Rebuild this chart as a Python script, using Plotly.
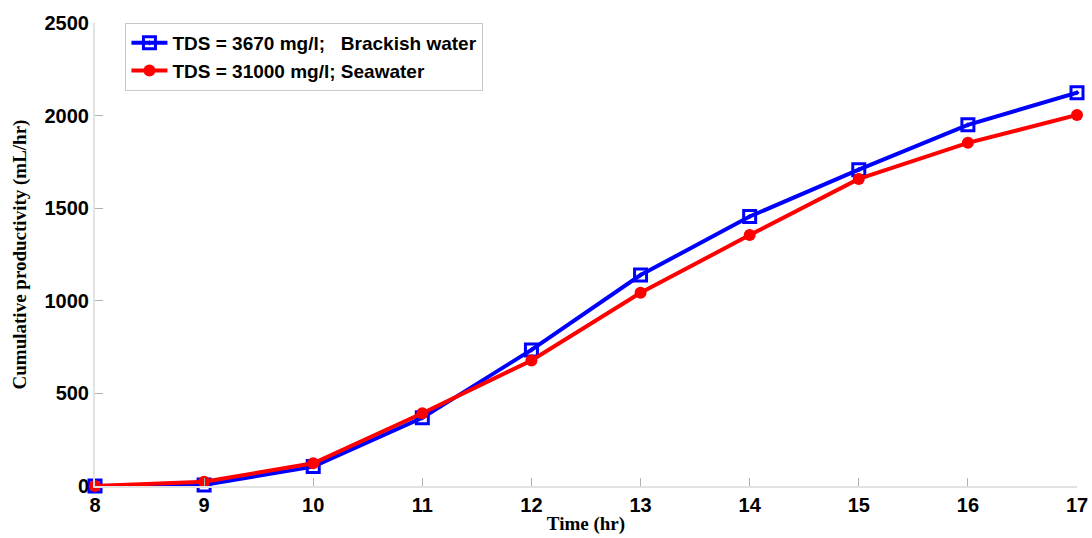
import plotly.graph_objects as go

time_hr = [8, 9, 10, 11, 12, 13, 14, 15, 16, 17]
brackish = [0, 6, 105, 368, 735, 1139, 1455, 1708, 1950, 2124]
seawater = [0, 23, 123, 393, 678, 1043, 1355, 1658, 1853, 2003]

x_ticks = [8, 9, 10, 11, 12, 13, 14, 15, 16, 17]
y_ticks = [0, 500, 1000, 1500, 2000, 2500]

fig = go.Figure()
fig.add_trace(go.Scatter(
    x=time_hr, y=brackish, mode="lines+markers",
    name="TDS = 3670 mg/l;   Brackish water",
    line=dict(color="#0000ff", width=4),
    marker=dict(symbol="square-open-dot", size=12, color="#0000ff", line=dict(width=3, color="#0000ff")),
    cliponaxis=False,
))
fig.add_trace(go.Scatter(
    x=time_hr, y=seawater, mode="lines+markers",
    name="TDS = 31000 mg/l; Seawater",
    line=dict(color="#ff0000", width=4),
    marker=dict(symbol="circle", size=12, color="#ff0000"),
    cliponaxis=False,
))

fig.update_layout(
    width=1092, height=538,
    margin=dict(l=95, r=15, t=23, b=52),
    paper_bgcolor="white", plot_bgcolor="white",
    font=dict(family="Liberation Sans, Arial, sans-serif", color="black"),
    legend=dict(
        x=0.031, y=1.0, xanchor="left", yanchor="top",
        bordercolor="#c8c8c8", borderwidth=1, bgcolor="white",
        font=dict(family="Liberation Sans, Arial, sans-serif", size=19, color="black", weight="bold"),
        tracegroupgap=0, itemwidth=36,
    ),
    showlegend=True,
)
fig.update_xaxes(
    range=[8, 17], tickvals=x_ticks, ticktext=[str(v) for v in x_ticks],
    showgrid=False, zeroline=False, automargin=False,
    showline=True, linecolor="#e3e3e3", linewidth=2,
    ticks="inside", ticklen=8, tickcolor="#b0b0b0", tickwidth=1,
    tickfont=dict(family="Liberation Sans, Arial, sans-serif", size=20, color="black", weight="bold"),
    title=dict(text="Time (hr)", standoff=2,
               font=dict(family="Liberation Serif, Times New Roman, serif", size=19, color="black", weight="bold")),
)
fig.update_yaxes(
    range=[0, 2500], tickvals=y_ticks, ticktext=[str(v) for v in y_ticks],
    showgrid=False, zeroline=False, automargin=False,
    showline=True, linecolor="#e3e3e3", linewidth=2,
    ticks="inside", ticklen=8, tickcolor="#b0b0b0", tickwidth=1,
    ticklabelstandoff=0,
    tickfont=dict(family="Liberation Sans, Arial, sans-serif", size=20, color="black", weight="bold"),
    title=dict(text="Cumulative productivity (mL/hr)", standoff=13,
               font=dict(family="Liberation Serif, Times New Roman, serif", size=19, color="black", weight="bold")),
)

fig.write_html(
    "out.html",
    config={"displayModeBar": False},
    post_script="document.body.style.margin='0';document.body.style.overflow='hidden';",
)
